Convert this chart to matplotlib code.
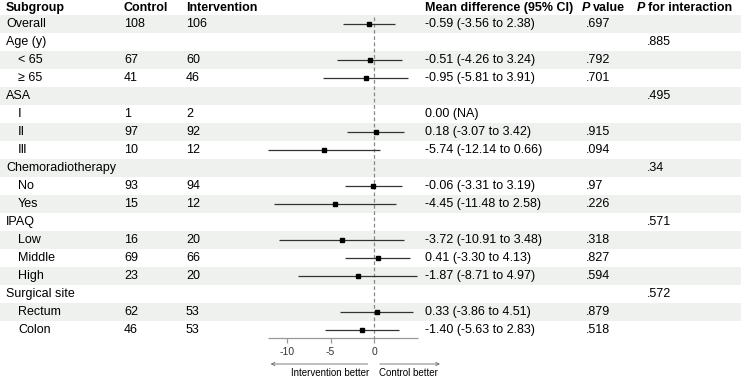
import numpy as np
import matplotlib.pyplot as plt
from matplotlib.patches import FancyArrowPatch

plt.rcParams['font.family'] = ['Liberation Sans', 'DejaVu Sans']

labels = ['Overall', 'Age (y)', '< 65', '≥ 65', 'ASA', 'Ⅰ', 'Ⅱ', 'Ⅲ',
          'Chemoradiotherapy', 'No', 'Yes', 'IPAQ', 'Low', 'Middle', 'High',
          'Surgical site', 'Rectum', 'Colon']
indent = [0, 0, 1, 1, 0, 1, 1, 1, 0, 1, 1, 0, 1, 1, 1, 0, 1, 1]
control = ['108', '', '67', '41', '', '1', '97', '10', '', '93', '15', '',
           '16', '69', '23', '', '62', '46']
intervention = ['106', '', '60', '46', '', '2', '92', '12', '', '94', '12', '',
                '20', '66', '20', '', '53', '53']
md = [-0.59, np.nan, -0.51, -0.95, np.nan, np.nan, 0.18, -5.74, np.nan,
      -0.06, -4.45, np.nan, -3.72, 0.41, -1.87, np.nan, 0.33, -1.40]
lo = [-3.56, np.nan, -4.26, -5.81, np.nan, np.nan, -3.07, -12.14, np.nan,
      -3.31, -11.48, np.nan, -10.91, -3.30, -8.71, np.nan, -3.86, -5.63]
hi = [2.38, np.nan, 3.24, 3.91, np.nan, np.nan, 3.42, 0.66, np.nan,
      3.19, 2.58, np.nan, 3.48, 4.13, 4.97, np.nan, 4.51, 2.83]
md_text = ['-0.59 (-3.56 to 2.38)', '', '-0.51 (-4.26 to 3.24)', '-0.95 (-5.81 to 3.91)',
           '', '0.00 (NA)', '0.18 (-3.07 to 3.42)', '-5.74 (-12.14 to 0.66)', '',
           '-0.06 (-3.31 to 3.19)', '-4.45 (-11.48 to 2.58)', '',
           '-3.72 (-10.91 to 3.48)', '0.41 (-3.30 to 4.13)', '-1.87 (-8.71 to 4.97)', '',
           '0.33 (-3.86 to 4.51)', '-1.40 (-5.63 to 2.83)']
p_value = ['.697', '', '.792', '.701', '', '', '.915', '.094', '', '.97', '.226', '',
           '.318', '.827', '.594', '', '.879', '.518']
p_inter = ['', '.885', '', '', '.495', '', '', '', '.34', '', '', '.571', '', '', '',
           '.572', '', '']
ticks = [-10, -5, 0]

W, H = 741, 377
fig = plt.figure(figsize=(W / 100, H / 100), dpi=100)

# row index -> pixel: 24 + 18*i
y0, dy = 24, 18
ylim = ((H - y0) / dy, -y0 / dy)

bg = fig.add_axes([0, 0, 1, 1])
bg.set_xlim(0, W)
bg.set_ylim(*ylim)
bg.axis('off')

n = len(labels)
for i in range(0, n, 2):
    bg.axhspan(i - 0.5, i + 0.5, color='#eff1ef', lw=0, zorder=0)

fs = 9
hy = (8 - y0) / dy
bg.text(6, hy, 'Subgroup', fontsize=fs, fontweight='bold', va='center')
bg.text(124, hy, 'Control', fontsize=fs, fontweight='bold', va='center')
bg.text(186, hy, 'Intervention', fontsize=fs, fontweight='bold', va='center')
bg.text(425, hy, 'Mean difference (95% CI)', fontsize=fs, fontweight='bold', va='center')
bg.text(582, hy, 'P', fontsize=fs, fontweight='bold', fontstyle='italic', va='center')
bg.text(593, hy, 'value', fontsize=fs, fontweight='bold', va='center')
bg.text(637, hy, 'P', fontsize=fs, fontweight='bold', fontstyle='italic', va='center')
bg.text(648, hy, 'for interaction', fontsize=fs, fontweight='bold', va='center')

for i in range(n):
    bg.text(6 + 12 * indent[i], i, labels[i], fontsize=fs, va='center')
    bg.text(124, i, control[i], fontsize=fs, va='center')
    bg.text(186, i, intervention[i], fontsize=fs, va='center')
    bg.text(425, i, md_text[i], fontsize=fs, va='center')
    bg.text(586, i, p_value[i], fontsize=fs, va='center')
    bg.text(647, i, p_inter[i], fontsize=fs, va='center')

# forest panel: 8.7 px per unit, zero at x=374
ppu = 8.7
xmin, xmax = -14.0, 8.0
left = 374 + xmin * ppu
ax = fig.add_axes([left / W, 0, (xmax - xmin) * ppu / W, 1])
ax.set_xlim(xmin, xmax)
ax.set_ylim(*ylim)
ax.patch.set_alpha(0)
for s in ['top', 'right', 'left', 'bottom']:
    ax.spines[s].set_visible(False)
ax.set_yticks([])
ax.set_xticks([])

rows = np.arange(n)
md_a, lo_a, hi_a = np.array(md), np.array(lo), np.array(hi)
ok = ~np.isnan(md_a)
ax.hlines(rows[ok], lo_a[ok], hi_a[ok], color='#333333', lw=0.9, zorder=3)
ax.plot(md_a[ok], rows[ok], 's', color='black', ms=2.9, zorder=4)

ax_y = (338 - y0) / dy
ax.vlines(0, (17 - y0) / dy, ax_y, color='#888888', lw=0.9, linestyles=(0, (3, 2)), zorder=2)
ax.hlines(ax_y, -12.2, 5.0, color='#999999', lw=0.9)
tick_len = 5 / dy
ax.vlines(ticks, ax_y, ax_y + tick_len, color='#999999', lw=0.9)
for t in ticks:
    ax.text(t, (352 - y0) / dy, str(t), fontsize=7.5, ha='center', va='center', color='#333333')

ar_y = (364 - y0) / dy
ax.add_patch(FancyArrowPatch((-0.4, ar_y), (-12.2, ar_y), arrowstyle='->', mutation_scale=6,
                             color='#666666', lw=0.6))
ax.add_patch(FancyArrowPatch((0.35, ar_y), (7.9, ar_y), arrowstyle='->', mutation_scale=6,
                             color='#666666', lw=0.6))
ax.text(-0.6, (373 - y0) / dy, 'Intervention better', fontsize=7, ha='right', va='center')
ax.text(0.6, (373 - y0) / dy, 'Control better', fontsize=7, ha='left', va='center')

fig.savefig('out.png', dpi=100)
